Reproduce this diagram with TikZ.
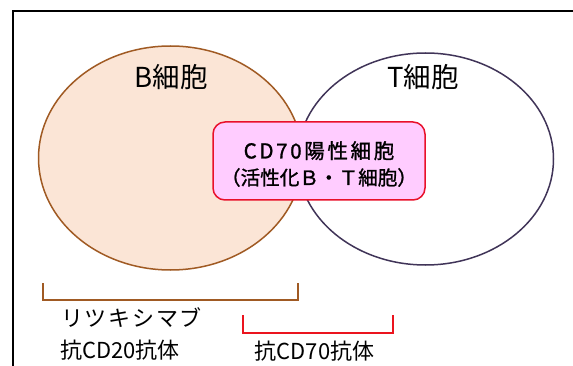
\documentclass[tikz,border=0pt]{standalone}
\usepackage{fontspec}
\setmainfont{Noto Sans CJK JP}
\newfontfamily\boxfont{Noto Sans CJK JP}[FakeBold=1.3]
\newfontfamily\boxfontsp{Noto Sans CJK JP}[FakeBold=1.3,LetterSpace=13]
\newfontfamily\drugfontsp{Noto Sans CJK JP}[LetterSpace=8]
\usetikzlibrary{shapes.geometric}
\definecolor{bbrown}{RGB}{160,90,35}
\definecolor{bfill}{RGB}{251,229,214}
\definecolor{tpurple}{RGB}{64,52,88}
\definecolor{boxred}{RGB}{232,16,42}
\definecolor{boxpink}{RGB}{255,204,255}
\definecolor{bred}{RGB}{235,20,30}
\begin{document}
\begin{tikzpicture}[x=1pt,y=-1pt,
  cellB/.style={ellipse, draw=bbrown, fill=bfill, line width=1.5pt, minimum width=264pt, minimum height=224pt, inner sep=0pt},
  cellT/.style={ellipse, draw=tpurple, line width=1.5pt, minimum width=256pt, minimum height=212pt, inner sep=0pt},
  cd70box/.style={draw=boxred, fill=boxpink, line width=1.5pt, rounded corners=12pt, minimum width=212pt, minimum height=78pt, inner sep=0pt},
  boxtext/.style={align=center, inner sep=0pt, font=\fontsize{20}{26.5}\selectfont},
  title/.style={font=\fontsize{27.5}{30}\selectfont, inner sep=0pt},
  drug/.style={font=\fontsize{22}{26}\selectfont, inner sep=0pt},
  bracket/.style={line width=2.5pt}]
\useasboundingbox (0,0) rectangle (573,366);
\begin{scope}
\clip (0,0) rectangle (573,366);
\draw[line width=2.5pt] (13,390) -- (13,11) -- (600,11);
\end{scope}
\node[cellB] (B) at (170.5,158) {};
\node[cellT] (T) at (425.5,159) {};
\node[title] (Blab) at (171,77) {B細胞};
\node[title] (Tlab) at (423,77) {T細胞};
\node[cd70box] (box) at (319,161) {};
\node[boxtext] (boxlab) at (box.center) [yshift=-3pt]
  {\boxfontsp\fontsize{20.5}{26.5}\selectfont CD70陽性細胞\\
   \boxfont\fontsize{19.6}{26.5}\selectfont （活性化Ｂ・Ｔ細胞）};
\coordinate (b1) at (43,283);
\coordinate (b2) at (298,283);
\draw[bracket, bbrown] (b1) -- ++(0,17) -| (b2);
\coordinate (r1) at (243,315);
\coordinate (r2) at (393,315);
\draw[bracket, bred] (r1) -- ++(0,18) -| (r2);
\node[drug] (ritux) at (131.5,318) {\drugfontsp リツキシマブ};
\node[drug] (cd20) at (120,350) {抗CD20抗体};
\node[drug] (cd70) at (314.5,351) {抗CD70抗体};
\end{tikzpicture}
\end{document}
